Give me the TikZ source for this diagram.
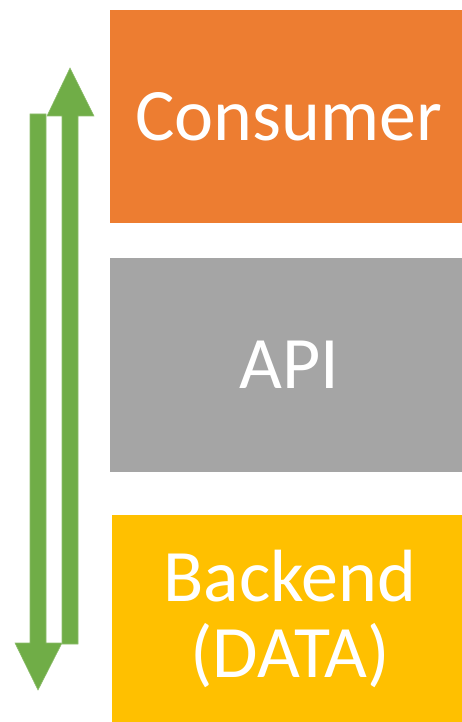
\documentclass[tikz,border=0pt]{standalone}
\usepackage{fontspec}
\setmainfont{Carlito}
\usepackage{tikz}
\definecolor{consumerorange}{HTML}{ED7D31}
\definecolor{apigray}{HTML}{A5A5A5}
\definecolor{backendyellow}{HTML}{FFC000}
\definecolor{flowgreen}{HTML}{70AD47}

\begin{document}
\begin{tikzpicture}[x=1pt, y=-1pt,
  layerbox/.style={draw=none, minimum width=352, inner sep=0, align=center, text=white, font=\fontsize{74}{76}\selectfont},
  flowarrow/.style={fill=flowgreen, draw=flowgreen!80!white, line width=0.6}]
\useasboundingbox (0,0) rectangle (462,722);
%layers
\node[layerbox, fill=consumerorange, minimum height=213] (consumer) at (286,116.5) {\hspace*{6pt}Consumer};
\node[layerbox, fill=apigray, minimum height=214] (api) at (286,365) {\hspace*{6pt}API};
\node[layerbox, fill=backendyellow, minimum width=350, minimum height=207] (backend) at (287,618.5) {\hspace*{6pt}Backend\\\hspace*{6pt}(DATA)};
%arrows
\coordinate (uptip) at (70,68);
\coordinate (downtip) at (38,690);
\filldraw[flowarrow] (62,644) -- (62,116) -- (47,116) -- (uptip) -- (94,116) -- (78,116) -- (78,644) -- cycle;
\filldraw[flowarrow] (30,114) -- (30,643) -- (15,643) -- (downtip) -- (62,643) -- (46,643) -- (46,114) -- cycle;
\end{tikzpicture}
\end{document}
